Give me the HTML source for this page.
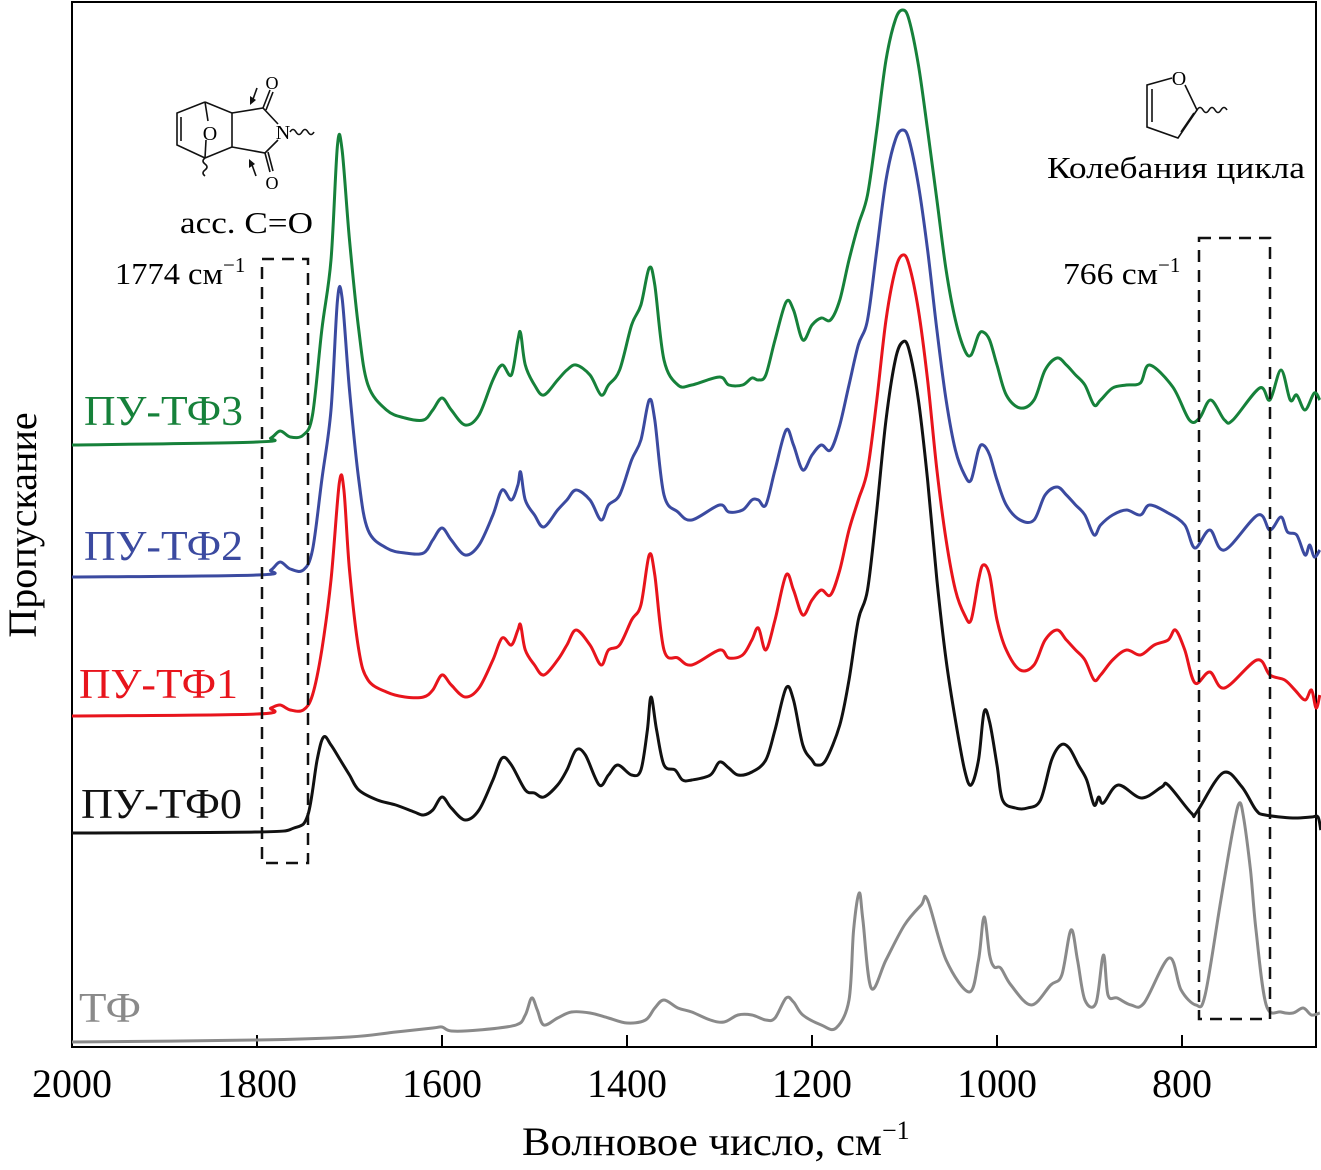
<!DOCTYPE html>
<html><head><meta charset="utf-8"><style>
html,body{margin:0;padding:0;background:#fff;}
svg{display:block;font-family:"Liberation Serif",serif;}
</style></head><body>
<svg id="chart" width="1321" height="1170" viewBox="0 0 1321 1170">
<g>
<rect x="72" y="2" width="1244" height="1045" fill="none" stroke="#000" stroke-width="2"/>
</g>
<g id="ticks"></g>
<g id="series"></g>
<text x="522" y="1155" font-size="40"><tspan textLength="360" lengthAdjust="spacingAndGlyphs">Волновое число, см</tspan><tspan dy="-16" font-size="26">−1</tspan></text>
<text transform="translate(36,525) rotate(-90)" font-size="40" text-anchor="middle">Пропускание</text>
<text x="84" y="425" font-size="42" fill="#16813a" textLength="159" lengthAdjust="spacingAndGlyphs">ПУ-ТФ3</text>
<text x="84" y="560" font-size="42" fill="#3b4aa0" textLength="159" lengthAdjust="spacingAndGlyphs">ПУ-ТФ2</text>
<text x="79" y="698" font-size="42" fill="#e8141c" textLength="159" lengthAdjust="spacingAndGlyphs">ПУ-ТФ1</text>
<text x="81" y="818" font-size="42" fill="#111" textLength="161" lengthAdjust="spacingAndGlyphs">ПУ-ТФ0</text>
<text x="79" y="1022" font-size="42" fill="#8a8a8a" textLength="62" lengthAdjust="spacingAndGlyphs">ТФ</text>
<rect x="262" y="259" width="46" height="604" fill="none" stroke="#111" stroke-width="2.5" stroke-dasharray="12,8"/>
<rect x="1199" y="238" width="71" height="781" fill="none" stroke="#111" stroke-width="2.5" stroke-dasharray="12,8"/>
<text x="115" y="284" font-size="31"><tspan textLength="108" lengthAdjust="spacingAndGlyphs">1774 см</tspan><tspan dy="-12" font-size="21">−1</tspan></text>
<text x="180" y="233" font-size="31" textLength="133" lengthAdjust="spacingAndGlyphs">асс. C=O</text>
<text x="1063" y="284" font-size="31"><tspan textLength="95" lengthAdjust="spacingAndGlyphs">766 см</tspan><tspan dy="-12" font-size="21">−1</tspan></text>
<text x="1047" y="178" font-size="31" textLength="258" lengthAdjust="spacingAndGlyphs">Колебания цикла</text>
<g stroke="#111" stroke-width="1.6" fill="none">
<polyline points="205,102 177,113 177,145 205,158"/>
<line x1="181" y1="117" x2="181" y2="141"/>
<polyline points="205,102 232,113 232,147 205,158"/>
<line x1="205" y1="102" x2="208" y2="121"/><line x1="206" y1="140" x2="205" y2="158"/>
<polyline points="232,113 263,108 278,124"/>
<polyline points="232,147 265,153 278,140"/>
<line x1="263" y1="108" x2="270" y2="90"/><line x1="266" y1="110" x2="273" y2="92"/>
<line x1="265" y1="153" x2="270" y2="172"/><line x1="268" y1="152" x2="273" y2="171"/>
<path d="M290,132 q3,-5 6,0 t6,0 t6,0 t6,0"/>
<path d="M205,158 q-4,3 0,6 t0,6 t0,6"/>
<line x1="257" y1="88" x2="252" y2="102"/><line x1="256" y1="176" x2="251" y2="162"/>
</g>
<polygon points="250,105 250,96 256,100" fill="#111"/>
<polygon points="249,159 249,168 255,164" fill="#111"/>
<text x="210" y="140" font-size="20" text-anchor="middle">O</text>
<text x="272" y="89" font-size="18" text-anchor="middle">O</text>
<text x="272" y="189" font-size="18" text-anchor="middle">O</text>
<text x="283" y="139" font-size="20" text-anchor="middle">N</text>
<g stroke="#111" stroke-width="1.6" fill="none">
<polyline points="1172,78 1147,85 1147,127 1178,138 1197,110 1185,85"/>
<line x1="1152" y1="89" x2="1152" y2="122"/>
<line x1="1181" y1="132" x2="1194" y2="113"/>
<path d="M1197,110 q3,-5 6,0 t6,0 t6,0 t6,0 t6,0"/>
</g>
<text x="1179" y="85" font-size="20" text-anchor="middle">O</text>
</svg>
<script>
var tickValues=[2000,1800,1600,1400,1200,1000,800];
var tickLabels=["2000","1800","1600","1400","1200","1000","800"];
var wTF0=[2000,1800,1760,1745,1735,1728,1720,1710,1700,1690,1670,1650,1630,1620,1610,1600,1590,1575,1560,1545,1535,1525,1510,1500,1490,1475,1465,1455,1445,1430,1420,1410,1395,1385,1378,1374,1368,1360,1348,1340,1330,1310,1300,1290,1280,1265,1250,1240,1228,1220,1210,1200,1195,1185,1170,1160,1150,1140,1130,1120,1110,1102,1095,1085,1075,1065,1055,1045,1035,1028,1020,1014,1008,1000,994,980,967,953,941,931,922,912,903,895,890,885,869,844,822,815,790,784,756,736,720,710,680,660,653,650];
var vTF0=[833,832,828,815,760,737,745,760,775,790,800,805,812,815,810,797,808,820,810,780,758,765,790,793,797,785,770,750,755,785,775,765,775,770,730,697,730,765,770,780,780,775,762,768,775,772,760,730,688,700,745,760,765,760,725,680,620,590,510,420,360,342,350,400,480,580,660,720,770,785,760,712,722,765,800,808,808,800,760,745,748,765,780,805,797,803,785,798,787,785,813,812,773,786,810,815,818,817,817,830];
var wTF1=[2000,1800,1785,1775,1764,1750,1740,1730,1720,1711,1706,1700,1690,1680,1660,1640,1620,1610,1600,1590,1575,1560,1545,1535,1525,1518,1515,1510,1500,1490,1475,1465,1455,1440,1428,1420,1408,1395,1385,1376,1370,1360,1345,1330,1300,1290,1275,1265,1258,1250,1240,1228,1220,1210,1200,1190,1180,1170,1160,1150,1140,1130,1120,1110,1102,1095,1085,1075,1065,1055,1045,1035,1028,1020,1015,1008,1000,990,975,960,948,935,925,915,905,895,888,875,860,845,830,815,807,797,786,770,754,719,705,689,678,667,660,655,651];
var vTF1=[716,714,708,705,710,710,695,650,580,483,490,570,650,680,692,697,697,690,675,685,697,688,660,638,645,630,625,650,665,675,660,645,630,645,665,650,645,620,605,555,575,650,658,665,650,658,655,640,628,650,620,575,590,615,600,590,595,570,530,500,470,400,320,270,255,265,310,380,470,540,590,615,620,580,565,575,620,650,670,665,640,630,640,650,660,680,675,660,650,655,645,640,630,650,683,672,688,660,675,680,690,700,690,708,695];
var wTF2=[2000,1800,1785,1775,1764,1750,1740,1730,1720,1713,1708,1700,1690,1680,1660,1640,1620,1610,1600,1590,1575,1560,1545,1535,1525,1518,1515,1510,1500,1490,1475,1465,1455,1440,1428,1420,1408,1395,1385,1376,1370,1360,1345,1330,1300,1290,1275,1265,1258,1250,1240,1228,1220,1210,1200,1190,1180,1170,1160,1150,1140,1130,1120,1110,1102,1095,1085,1075,1065,1055,1045,1035,1028,1020,1015,1008,1000,990,975,960,948,935,925,915,905,895,888,875,860,845,835,815,797,786,770,754,718,705,693,686,676,667,662,657,651];
var vTF2=[577,575,570,562,569,570,550,480,410,300,298,390,480,530,548,553,553,540,528,540,555,545,515,490,500,485,472,500,515,527,510,500,490,500,520,505,495,460,440,400,420,495,512,520,505,512,510,500,500,505,470,430,445,470,455,445,450,425,385,345,320,250,180,140,130,140,185,250,330,400,450,475,480,450,445,455,480,505,520,520,495,487,495,505,515,535,525,515,510,515,505,513,525,548,530,550,515,530,517,532,535,555,545,557,550];
var wTF3=[2000,1800,1785,1775,1764,1750,1740,1730,1720,1713,1708,1700,1690,1680,1660,1640,1620,1610,1600,1590,1575,1560,1545,1535,1525,1518,1515,1510,1500,1490,1475,1465,1455,1440,1428,1420,1408,1395,1385,1376,1370,1360,1345,1330,1300,1290,1275,1265,1258,1250,1240,1228,1220,1210,1200,1190,1180,1170,1160,1150,1140,1130,1120,1110,1102,1095,1085,1075,1065,1055,1045,1035,1028,1020,1015,1008,1000,990,975,960,948,935,925,915,905,895,888,875,860,845,835,810,792,781,769,754,745,716,705,693,683,676,667,657,651];
var vTF3=[445,442,438,431,437,435,415,330,260,145,150,240,330,385,410,418,420,410,398,410,425,415,380,365,375,340,333,365,385,395,380,370,365,375,395,385,370,325,305,268,285,360,385,385,377,385,385,378,380,375,340,302,310,340,325,318,320,300,260,225,195,130,60,20,10,20,65,130,200,270,320,350,355,335,332,340,365,395,408,400,370,358,365,375,385,405,400,388,385,383,365,387,420,418,400,420,420,388,400,370,400,395,410,393,400];
var wTF=[2000,1800,1700,1650,1610,1600,1590,1560,1520,1510,1503,1497,1490,1475,1460,1440,1420,1400,1380,1370,1360,1345,1330,1310,1295,1280,1265,1250,1240,1228,1220,1210,1190,1174,1160,1155,1149,1145,1136,1120,1100,1082,1075,1055,1030,1020,1014,1008,1003,996,985,963,942,930,920,913,905,893,885,880,870,855,841,814,801,785,775,758,745,738,733,726,720,709,693,680,669,660,651];
var vTF=[1042,1040,1037,1032,1028,1027,1031,1030,1025,1015,998,1010,1025,1018,1012,1013,1018,1023,1020,1008,1000,1008,1012,1020,1022,1015,1015,1020,1018,998,1002,1015,1025,1028,1000,930,893,920,988,960,925,905,900,960,992,960,917,955,967,968,985,1005,985,975,930,960,1000,1003,955,995,998,1005,1003,958,990,1005,995,900,830,803,820,870,930,1005,1012,1013,1008,1015,1013];
var xScale=function(w){return 72+(2000-w)*0.925;};
var yScale=function(v){return v;};
var NS="http://www.w3.org/2000/svg";
var tg=document.getElementById('ticks');
for(var i=0;i<tickValues.length;i++){
 var x=xScale(tickValues[i]);
 var l=document.createElementNS(NS,'line');
 l.setAttribute('x1',x);l.setAttribute('x2',x);l.setAttribute('y1',1047);l.setAttribute('y2',1035);
 l.setAttribute('stroke','#000');l.setAttribute('stroke-width','2');
 
 
 tg.appendChild(l);
 var t=document.createElementNS(NS,'text');
 t.setAttribute('x',x);t.setAttribute('y',1097);t.setAttribute('font-size','40');t.setAttribute('text-anchor','middle');
 t.textContent=tickLabels[i];
 
 
 tg.appendChild(t);
}
var sg=document.getElementById('series');
function draw(ws,vs,color,name){
 var P=[];
 for(var i=0;i<ws.length;i++){P.push([xScale(ws[i]),yScale(vs[i])]);}
 var d='M'+P[0][0].toFixed(1)+','+P[0][1].toFixed(1);
 for(var i=0;i<P.length-1;i++){
  var p0=P[Math.max(i-1,0)],p1=P[i],p2=P[i+1],p3=P[Math.min(i+2,P.length-1)];
  var c1x=p1[0]+(p2[0]-p0[0])/6,c1y=p1[1]+(p2[1]-p0[1])/6;
  var c2x=p2[0]-(p3[0]-p1[0])/6,c2y=p2[1]-(p3[1]-p1[1])/6;
  d+='C'+c1x.toFixed(1)+','+c1y.toFixed(1)+' '+c2x.toFixed(1)+','+c2y.toFixed(1)+' '+p2[0].toFixed(1)+','+p2[1].toFixed(1);
 }
 var p=document.createElementNS(NS,'path');
 p.setAttribute('d',d);p.setAttribute('fill','none');p.setAttribute('stroke',color);
 p.setAttribute('stroke-width','3');p.setAttribute('stroke-linejoin','round');
 
 
 sg.appendChild(p);
}
draw(wTF,vTF,'#8a8a8a','series-tf');
draw(wTF0,vTF0,'#111','series-pu-tf0');
draw(wTF1,vTF1,'#e8141c','series-pu-tf1');
draw(wTF2,vTF2,'#3b4aa0','series-pu-tf2');
draw(wTF3,vTF3,'#16813a','series-pu-tf3');
</script>
</body></html>
